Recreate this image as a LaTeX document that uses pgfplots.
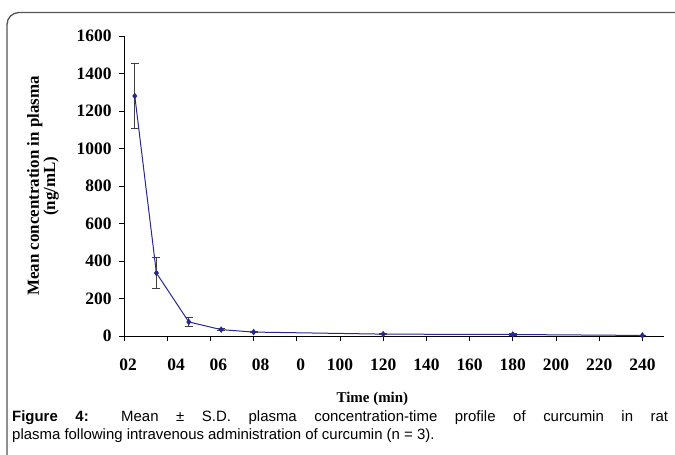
\documentclass[border=0pt]{standalone}
\usepackage{fontspec}
\setmainfont{Liberation Serif}
\newfontfamily\arial{Liberation Sans}
\usepackage{pgfplots}
\pgfplotsset{compat=1.18}
\definecolor{navyline}{RGB}{40,40,145}
\definecolor{framegray}{RGB}{85,85,85}
\begin{document}
\begin{tikzpicture}
\useasboundingbox (0bp,0bp) rectangle (675bp,-455bp);
% open rounded frame (top and left only)
\draw[framegray, line width=1.3bp, rounded corners=12bp] (7bp,-456bp) -- (7bp,-12.5bp) -- (676bp,-12.5bp);
\begin{axis}[
    at={(124bp,-336bp)}, anchor=origin,
    scale only axis, width=540bp, height=300bp,
    xmin=0, xmax=250, ymin=0, ymax=1600,
    axis x line=bottom, axis y line=left,
    axis line style={-, black, line width=0.8bp},
    tick style={black, line width=0.8bp},
    tick align=outside, major tick length=5bp,
    xtick={0,20,...,240},
    % the labels are garbled this way in the original figure
    xticklabels={\hspace*{8bp}02,\hspace*{18bp}04,\hspace*{16bp}06,\hspace*{14bp}08,\hspace*{8bp}0,100,120,140,160,180,200,220,240},
    ytick={0,200,...,1600},
    /pgf/number format/1000 sep={},
    /pgf/number format/assume math mode=true,
    ticklabel style={font=\fontsize{17.5}{20}\selectfont\bfseries},
    xticklabel style={yshift=-14bp},
    yticklabel style={xshift=-4bp},
    xlabel={Time (min)},
    xlabel style={font=\fontsize{15}{18}\selectfont\bfseries, at={(axis description cs:0.46,-0.21)}, anchor=center},
    ylabel={Mean concentration in plasma\\(ng/mL)},
    ylabel style={font=\fontsize{17}{15}\selectfont\bfseries, align=center, at={(axis description cs:-0.15,0.5)}, anchor=center},
    clip=false,
]
\addplot[navyline, line width=1bp, mark=diamond*, mark size=2.5bp,
    mark options={navyline},
    error bars/.cd, y dir=both, y explicit,
    error bar style={black!75, line width=0.9bp},
    error mark options={rotate=90, mark size=4bp, black!75, line width=0.9bp}]
coordinates {
    (5,1280) +- (0,172)
    (15,336) +- (0,83)
    (30,75) +- (0,23)
    (45,34) +- (0,5)
    (60,21) +- (0,4)
    (120,10) +- (0,3)
    (180,8) +- (0,3)
    (240,3) +- (0,2)
};
\end{axis}
\node[anchor=base west, inner sep=0pt, font=\arial\fontsize{15}{18}\selectfont] at (12bp,-421bp)
  {\makebox[656bp][s]{\textbf{Figure 4:} Mean ± S.D. plasma concentration-time profile of curcumin in rat}};
\node[anchor=base west, inner sep=0pt, font=\arial\fontsize{15}{18}\selectfont] at (12bp,-439bp)
  {plasma following intravenous administration of curcumin (n = 3).};
\end{tikzpicture}
\end{document}
